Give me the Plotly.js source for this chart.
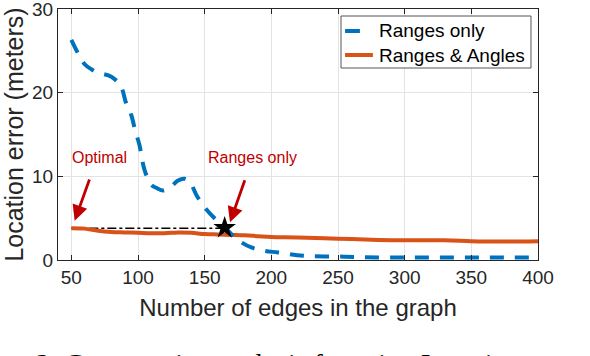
<!DOCTYPE html>
<html>
<head>
<meta charset="utf-8">
<script src="https://cdn.plot.ly/plotly-3.0.1.min.js"></script>
<style>
html,body{margin:0;padding:0;background:#fff;}
#chart{width:590px;height:356px;}
</style>
</head>
<body>
<div id="chart"></div>
<script>
// Data
const rangesOnlyX = [50, 55, 60, 65, 70, 80, 87, 91, 95, 98, 101, 105, 110, 114, 119, 125, 130, 135, 139, 144, 151, 158, 165, 174, 185, 195, 205, 224, 255, 280, 300, 320, 340, 360, 380, 400];
const rangesOnlyY = [26.3, 24.7, 23.4, 22.8, 22.4, 21.9, 20.8, 18.8, 17.3, 15.4, 13.8, 10.7, 9.0, 8.6, 8.3, 8.8, 9.5, 9.7, 9.3, 7.7, 6.1, 4.9, 3.9, 2.5, 1.5, 1.1, 0.9, 0.5, 0.4, 0.3, 0.3, 0.3, 0.3, 0.3, 0.3, 0.3];

const rangesAnglesX = [50, 60, 70, 80, 90, 100, 110, 120, 130, 140, 150, 160, 170, 180, 190, 200, 220, 250, 280, 300, 330, 350, 370, 400];
const rangesAnglesY = [3.8, 3.75, 3.5, 3.35, 3.3, 3.25, 3.2, 3.2, 3.3, 3.25, 3.1, 3.05, 3.0, 2.95, 2.85, 2.75, 2.7, 2.55, 2.4, 2.35, 2.35, 2.25, 2.2, 2.25];

const optimalLineX = [50, 165];
const optimalLineY = [3.8, 3.8];
const starX = [165];
const starY = [3.85];

const xTicks = [50, 100, 150, 200, 250, 300, 350, 400];
const yTicks = [0, 10, 20, 30];

const seriesNames = ["Ranges only", "Ranges & Angles"];
const seriesColors = ["#0072BD", "#D95319"];
const noteOptimal = {text: "Optimal", x: 71, y: 12.2, headX: 52.5, headY: 4.7, tailX: 64, tailY: 9.8};
const noteRanges = {text: "Ranges only", x: 185.5, y: 12.2, headX: 169, headY: 4.5, tailX: 180.5, tailY: 9.7};
const captionText = "2: Comparative analysis for using Location error estimation";

const axisColor = "#262626";
const gridColor = "#e3e3e3";
const blueDash = "14px,11px";
const tickFont = {family: "Liberation Sans, Arial, sans-serif", size: 19, color: axisColor};
const xTitleFont = {family: "Liberation Sans, Arial, sans-serif", size: 24, color: axisColor};
const yTitleFont = {family: "Liberation Sans, Arial, sans-serif", size: 25, color: axisColor};
const legendFont = {family: "Liberation Sans, Arial, sans-serif", size: 19, color: "#000000"};
const noteFont = {family: "Liberation Sans, Arial, sans-serif", size: 16, color: "#C00000"};

const traces = [
  {x: optimalLineX, y: optimalLineY, mode: "lines", showlegend: false, hoverinfo: "skip",
   line: {color: "#000000", width: 1.6, dash: "dashdot"}},
  {x: rangesAnglesX, y: rangesAnglesY, mode: "lines", name: seriesNames[1], showlegend: false,
   line: {color: seriesColors[1], width: 4, shape: "spline", smoothing: 1}},
  {x: rangesOnlyX, y: rangesOnlyY, mode: "lines", name: seriesNames[0], showlegend: false,
   line: {color: seriesColors[0], width: 4, dash: blueDash, shape: "spline", smoothing: 1}},
  {x: starX, y: starY, mode: "markers", showlegend: false, hoverinfo: "skip",
   marker: {symbol: "star", size: 17, color: "#000000"}}
];

function arrowNote(n) {
  return [
    {x: n.x, y: n.y, xref: "x", yref: "y", text: n.text, showarrow: false, font: noteFont},
    {x: n.headX, y: n.headY, xref: "x", yref: "y", ax: n.tailX, ay: n.tailY, axref: "x", ayref: "y",
     text: "", showarrow: true, arrowhead: 2, arrowsize: 1.1, arrowwidth: 2.8, arrowcolor: "#C00000"}
  ];
}

// Hand-built legend box (MATLAB style) in paper coordinates
const legBox = {x0: 0.5896, x1: 0.9854, y0: 0.7649, y1: 0.9721};
const legRows = [0.9124, 0.8167];
const legSampleBlue = {x0: 0.598, x1: 0.629};
const legSampleOrange = {x0: 0.598, x1: 0.656};
const legTextX = 0.6646;

const shapes = [
  {type: "rect", xref: "paper", yref: "paper", x0: legBox.x0, x1: legBox.x1, y0: legBox.y0, y1: legBox.y1,
   line: {color: "#555555", width: 1}, fillcolor: "#ffffff", layer: "above"},
  {type: "line", xref: "paper", yref: "paper", x0: legSampleBlue.x0, x1: legSampleBlue.x1, y0: legRows[0], y1: legRows[0],
   line: {color: seriesColors[0], width: 4}, layer: "above"},
  {type: "line", xref: "paper", yref: "paper", x0: legSampleOrange.x0, x1: legSampleOrange.x1, y0: legRows[1], y1: legRows[1],
   line: {color: seriesColors[1], width: 4}, layer: "above"}
];

const layout = {
  width: 590, height: 356,
  margin: {l: 58, r: 52, t: 9, b: 96},
  paper_bgcolor: "#ffffff", plot_bgcolor: "#ffffff",
  showlegend: false,
  xaxis: {range: [40, 400], tickvals: xTicks, ticktext: xTicks.map(String),
    showgrid: true, gridcolor: gridColor, zeroline: false,
    showline: true, linecolor: axisColor, linewidth: 1, mirror: "ticks",
    ticks: "inside", ticklen: 5, tickcolor: axisColor, tickfont: tickFont, ticklabeloverflow: "allow",
    title: {text: "Number of edges in the graph", font: xTitleFont, standoff: 12}},
  yaxis: {range: [0, 30], tickvals: yTicks, ticktext: yTicks.map(String),
    showgrid: true, gridcolor: gridColor, zeroline: false,
    showline: true, linecolor: axisColor, linewidth: 1, mirror: "ticks",
    ticks: "inside", ticklen: 5, tickcolor: axisColor, tickfont: tickFont, ticklabeloverflow: "allow",
    title: {text: "Location error (meters)", font: yTitleFont, standoff: 2}},
  shapes: shapes,
  annotations: [
    ...arrowNote(noteOptimal), ...arrowNote(noteRanges),
    {xref: "paper", yref: "paper", x: legTextX, y: legRows[0], xanchor: "left", yanchor: "middle",
     text: seriesNames[0], showarrow: false, font: legendFont},
    {xref: "paper", yref: "paper", x: legTextX, y: legRows[1], xanchor: "left", yanchor: "middle",
     text: seriesNames[1], showarrow: false, font: legendFont},
    {xref: "paper", yref: "paper", x: -0.05, y: -0.3426, xanchor: "left", yanchor: "top",
     text: captionText, showarrow: false,
     font: {family: "Liberation Serif, Times New Roman, serif", size: 28, color: "#000000"}}
  ]
};

Plotly.newPlot("chart", traces, layout, {staticPlot: true, displayModeBar: false});
</script>
</body>
</html>
